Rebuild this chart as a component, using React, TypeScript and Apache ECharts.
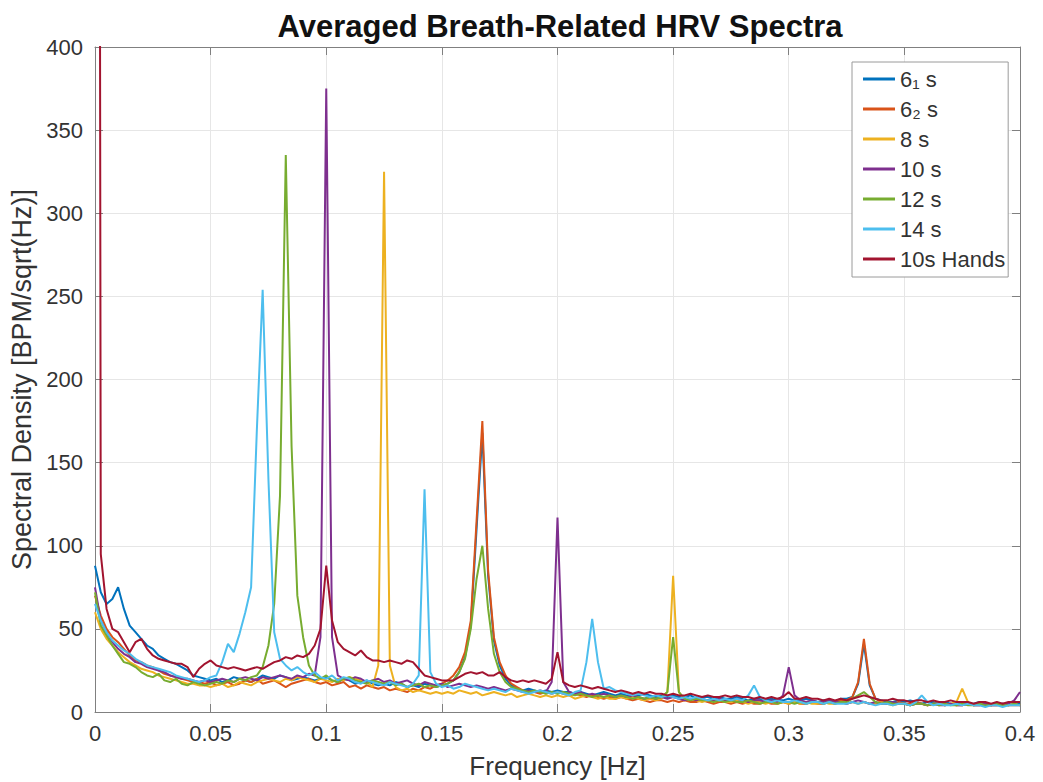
import React, { useEffect, useRef } from "react";
import * as echarts from "echarts";

// Frequency grid (Hz), step 0.0025 from 0 to 0.4
const freqStep = 0.0025;
const freqCount = 161;
const freq: number[] = Array.from({ length: freqCount }, (_, i) => +(i * freqStep).toFixed(4));

const seriesNames = ["6\u2081 s", "6\u2082 s", "8 s", "10 s", "12 s", "14 s", "10s Hands"];
const seriesColors = ["#0072BD", "#D95319", "#EDB120", "#7E2F8E", "#77AC30", "#4DBEEE", "#A2142F"];

const s61 = [
  88, 72, 65, 68, 75, 62, 52, 48, 44, 40,
  38, 34, 32, 30, 29, 27, 25, 22, 21, 20,
  19, 20, 18, 19, 21, 20, 19, 18, 20, 22,
  21, 20, 22, 21, 19, 20, 21, 20, 19, 20,
  21, 19, 18, 20, 19, 17, 18, 19, 17, 16,
  17, 16, 18, 17, 15, 16, 15, 17, 16, 15,
  16, 17, 19, 24, 33, 52, 110, 168, 82, 43,
  28, 20, 16, 14, 13, 14, 13, 12, 13, 12,
  13, 12, 12, 11, 12, 11, 10, 11, 12, 11,
  10, 11, 10, 9, 10, 11, 10, 9, 10, 9,
  10, 9, 9, 10, 8, 9, 9, 8, 9, 8,
  8, 9, 8, 7, 8, 8, 7, 8, 7, 7,
  8, 7, 7, 8, 7, 6, 7, 7, 6, 8,
  8, 9, 17, 41, 16, 8, 7, 6, 6, 7,
  6, 7, 6, 5, 6, 6, 5, 6, 5, 5,
  6, 5, 5, 6, 5, 4, 5, 5, 4, 5,
  5,
];

const s62 = [
  70, 58, 50, 45, 42, 38, 34, 31, 30, 28,
  27, 25, 23, 22, 21, 20, 19, 18, 18, 17,
  18, 16, 17, 18, 16, 17, 19, 18, 20, 17,
  18, 19, 17, 15, 17, 18, 19, 20, 18, 17,
  18, 16, 17, 18, 15, 16, 14, 16, 15, 14,
  15, 13, 14, 13, 12, 14, 13, 15, 14, 16,
  17, 19, 22, 27, 36, 55, 115, 175, 85, 45,
  30, 22, 17, 15, 13, 12, 12, 11, 12, 11,
  12, 11, 10, 11, 10, 9, 10, 9, 8, 9,
  8, 9, 8, 7, 8, 7, 6, 7, 7, 6,
  7, 6, 7, 6, 6, 7, 6, 5, 6, 6,
  5, 6, 5, 6, 5, 5, 6, 5, 5, 6,
  5, 6, 5, 5, 6, 5, 5, 6, 6, 7,
  7, 9, 18, 44, 17, 8, 6, 5, 5, 6,
  5, 5, 6, 5, 4, 5, 5, 4, 5, 4,
  4, 5, 4, 4, 5, 4, 4, 5, 4, 4,
  4,
];

const s8 = [
  60, 50, 44, 40, 36, 33, 30, 28, 26, 25,
  24, 22, 21, 20, 19, 18, 17, 17, 16, 16,
  15, 16, 17, 15, 16, 18, 17, 16, 18, 19,
  20, 19, 18, 20, 19, 21, 20, 19, 18, 20,
  19, 18, 20, 19, 21, 20, 19, 18, 15, 28,
  325, 28, 15, 13, 14, 12, 13, 12, 11, 12,
  11, 12, 11, 13, 12, 11, 12, 10, 11, 12,
  11, 10, 11, 9, 10, 11, 10, 9, 10, 9,
  10, 9, 10, 8, 9, 10, 9, 8, 9, 8,
  8, 9, 8, 9, 8, 7, 8, 7, 8, 12,
  82, 12, 7, 8, 7, 6, 7, 6, 7, 6,
  6, 7, 6, 5, 6, 6, 5, 6, 5, 6,
  5, 6, 5, 6, 5, 5, 6, 5, 5, 6,
  5, 6, 5, 6, 5, 5, 6, 5, 4, 5,
  5, 4, 5, 5, 4, 5, 5, 4, 5, 6,
  14, 6, 4, 5, 4, 4, 5, 4, 4, 5,
  4,
];

const s10 = [
  75, 55, 48, 42, 38, 35, 33, 30, 29, 27,
  26, 25, 24, 22, 21, 20, 20, 19, 18, 19,
  18, 19, 20, 19, 18, 20, 21, 20, 19, 21,
  20, 21, 22, 21, 20, 22, 21, 23, 22, 45,
  375, 45, 22, 20, 19, 21, 20, 18, 19, 20,
  18, 19, 17, 18, 19, 17, 16, 18, 17, 16,
  17, 15, 16, 17, 16, 15, 16, 15, 14, 15,
  14, 13, 14, 13, 12, 13, 12, 13, 12, 18,
  117, 18, 12, 11, 12, 10, 11, 10, 11, 10,
  9, 10, 9, 10, 9, 8, 9, 8, 9, 8,
  9, 8, 7, 8, 7, 8, 7, 7, 8, 7,
  7, 8, 7, 6, 7, 7, 6, 7, 6, 10,
  27, 10, 7, 6, 7, 6, 6, 7, 6, 6,
  5, 6, 7, 6, 5, 6, 5, 5, 6, 5,
  5, 4, 5, 5, 4, 5, 4, 4, 5, 4,
  4, 5, 4, 4, 5, 4, 4, 5, 5, 7,
  12,
];

const s12 = [
  72, 52, 46, 40, 35, 30, 29, 27, 24, 22,
  21, 23, 19, 18, 20, 17, 16, 18, 17, 16,
  17, 18, 17, 19, 18, 20, 19, 21, 22, 27,
  40, 65, 130, 335, 160, 70, 45, 28, 22, 20,
  22, 19, 18, 20, 21, 19, 18, 17, 19, 18,
  17, 18, 16, 17, 15, 16, 17, 15, 16, 15,
  16, 17, 19, 24, 32, 50, 80, 100, 62, 35,
  24, 18, 15, 14, 13, 12, 13, 12, 11, 12,
  11, 12, 11, 10, 11, 10, 9, 10, 9, 10,
  9, 10, 9, 8, 9, 8, 9, 8, 9, 12,
  45, 12, 8, 7, 8, 7, 7, 6, 7, 6,
  7, 6, 6, 7, 6, 5, 6, 6, 5, 6,
  6, 5, 6, 5, 6, 6, 5, 6, 5, 6,
  6, 8, 10, 12, 9, 6, 5, 6, 5, 5,
  5, 4, 5, 5, 4, 5, 4, 5, 4, 4,
  5, 4, 4, 5, 4, 4, 5, 4, 4, 5,
  4,
];

const s14 = [
  65, 55, 48, 43, 40, 37, 35, 32, 30, 28,
  27, 26, 25, 24, 22, 21, 20, 19, 18, 19,
  21, 22, 30, 41, 36, 47, 60, 75, 170, 254,
  140, 48, 32, 28, 25, 27, 24, 22, 24, 21,
  20, 22, 19, 21, 20, 18, 17, 19, 18, 17,
  16, 18, 17, 16, 15, 17, 22, 134, 24, 17,
  15, 16, 14, 15, 17, 16, 15, 14, 13, 14,
  13, 12, 14, 13, 12, 11, 12, 13, 12, 11,
  12, 11, 10, 12, 13, 30, 56, 30, 14, 15,
  13, 12, 11, 10, 11, 10, 9, 10, 9, 10,
  9, 8, 9, 8, 9, 8, 7, 8, 7, 8,
  7, 8, 7, 10, 16, 9, 7, 6, 7, 6,
  6, 7, 6, 5, 6, 6, 5, 6, 5, 5,
  5, 6, 5, 6, 5, 4, 5, 5, 4, 5,
  5, 4, 6, 10, 6, 4, 5, 4, 4, 5,
  4, 5, 4, 4, 3, 4, 4, 3, 4, 4,
  4,
];

const s10hands = [
  2500, 95, 62, 50, 48, 42, 36, 42, 44, 38,
  34, 32, 31, 30, 29, 29, 27, 21, 26, 29,
  31, 28, 27, 26, 27, 26, 25, 26, 27, 26,
  28, 30, 31, 33, 32, 34, 33, 35, 40, 50,
  88, 55, 42, 38, 36, 34, 37, 33, 31, 31,
  30, 31, 30, 29, 31, 30, 26, 22, 21, 20,
  19, 19, 19, 21, 23, 24, 23, 24, 22, 22,
  24, 21, 19, 18, 19, 18, 19, 18, 17, 20,
  36, 18, 16, 15, 16, 15, 14, 15, 14, 13,
  12, 13, 12, 11, 12, 11, 12, 11, 11, 10,
  11, 10, 10, 11, 10, 9, 10, 9, 9, 10,
  9, 10, 9, 9, 8, 9, 8, 9, 8, 9,
  12, 8, 8, 9, 8, 8, 7, 8, 7, 8,
  7, 8, 9, 10, 9, 8, 7, 7, 8, 7,
  7, 6, 7, 7, 6, 7, 6, 6, 7, 6,
  6, 6, 5, 6, 6, 5, 6, 5, 6, 6,
  6,
];

const seriesValues = [s61, s62, s8, s10, s12, s14, s10hands];

const titleText = "Averaged Breath-Related HRV Spectra";
const xLabel = "Frequency [Hz]";
const yLabel = "Spectral Density [BPM/sqrt(Hz)]";

const FONT = "'Liberation Sans', Arial, Helvetica, sans-serif";
const AXIS_COLOR = "#808080";
const TEXT_COLOR = "#333333";

export default function App() {
  const ref = useRef<HTMLDivElement>(null);

  useEffect(() => {
    if (!ref.current) return;
    const chart = echarts.init(ref.current, undefined, { renderer: "svg" });

    const axisLine = { show: true, onZero: false, lineStyle: { color: AXIS_COLOR, width: 1 } };
    const axisTick = { show: true, inside: true, length: 8, lineStyle: { color: AXIS_COLOR } };

    chart.setOption({
      animation: false,
      backgroundColor: "#ffffff",
      grid: { left: 95, right: 23, top: 47, bottom: 70, containLabel: false, outerBoundsMode: "none" },
      graphic: [
        {
          type: "text",
          x: 560,
          y: 11,
          style: {
            text: titleText,
            font: `bold 31px ${FONT}`,
            fill: "#111",
            textAlign: "center",
            textVerticalAlign: "top",
          },
        },
      ],
      legend: {
        orient: "vertical",
        left: 852,
        top: 62,
        data: seriesNames,
        icon: "rect",
        itemWidth: 32,
        itemHeight: 3,
        itemGap: 6,
        padding: [5, 3, 6, 11],
        borderColor: "#9a9a9a",
        borderWidth: 1,
        borderRadius: 0,
        backgroundColor: "#ffffff",
        textStyle: { fontFamily: FONT, fontSize: 22, color: TEXT_COLOR, lineHeight: 24 },
      },
      xAxis: [
        {
          type: "value",
          min: 0,
          max: 0.4,
          interval: 0.05,
          position: "bottom",
          axisLine,
          axisTick,
          axisLabel: {
            color: TEXT_COLOR,
            fontFamily: FONT,
            fontSize: 22,
            margin: 10,
            showMinLabel: true,
            showMaxLabel: true,
            formatter: (v: number) => String(+v.toFixed(2)),
          },
          splitLine: { show: true, lineStyle: { color: "#e6e6e6", width: 1 } },
          name: xLabel,
          nameLocation: "middle",
          nameGap: 40,
          nameTextStyle: { fontFamily: FONT, fontSize: 26, color: TEXT_COLOR, lineHeight: 28 },
        },
        {
          type: "value",
          min: 0,
          max: 0.4,
          interval: 0.05,
          position: "top",
          axisLine,
          axisTick,
          axisLabel: { show: false },
          splitLine: { show: false },
        },
      ],
      yAxis: [
        {
          type: "value",
          min: 0,
          max: 400,
          interval: 50,
          position: "left",
          axisLine,
          axisTick,
          axisLabel: {
            color: TEXT_COLOR,
            fontFamily: FONT,
            fontSize: 22,
            margin: 12,
            showMinLabel: true,
            showMaxLabel: true,
          },
          splitLine: { show: true, lineStyle: { color: "#e6e6e6", width: 1 } },
          name: yLabel,
          nameLocation: "middle",
          nameGap: 60,
          nameTextStyle: { fontFamily: FONT, fontSize: 27, color: TEXT_COLOR },
        },
        {
          type: "value",
          min: 0,
          max: 400,
          interval: 50,
          position: "right",
          axisLine,
          axisTick,
          axisLabel: { show: false },
          splitLine: { show: false },
        },
      ],
      series: seriesNames.map((name, k) => ({
        name,
        type: "line",
        xAxisIndex: 0,
        yAxisIndex: 0,
        symbol: "none",
        clip: true,
        color: seriesColors[k],
        lineStyle: { color: seriesColors[k], width: 2 },
        data: freq.map((f, i) => [f, seriesValues[k][i]]),
      })),
    });

    return () => chart.dispose();
  }, []);

  return (
    <div
      ref={ref}
      style={{ position: "absolute", left: 0, top: 0, width: 1043, height: 782 }}
    />
  );
}
